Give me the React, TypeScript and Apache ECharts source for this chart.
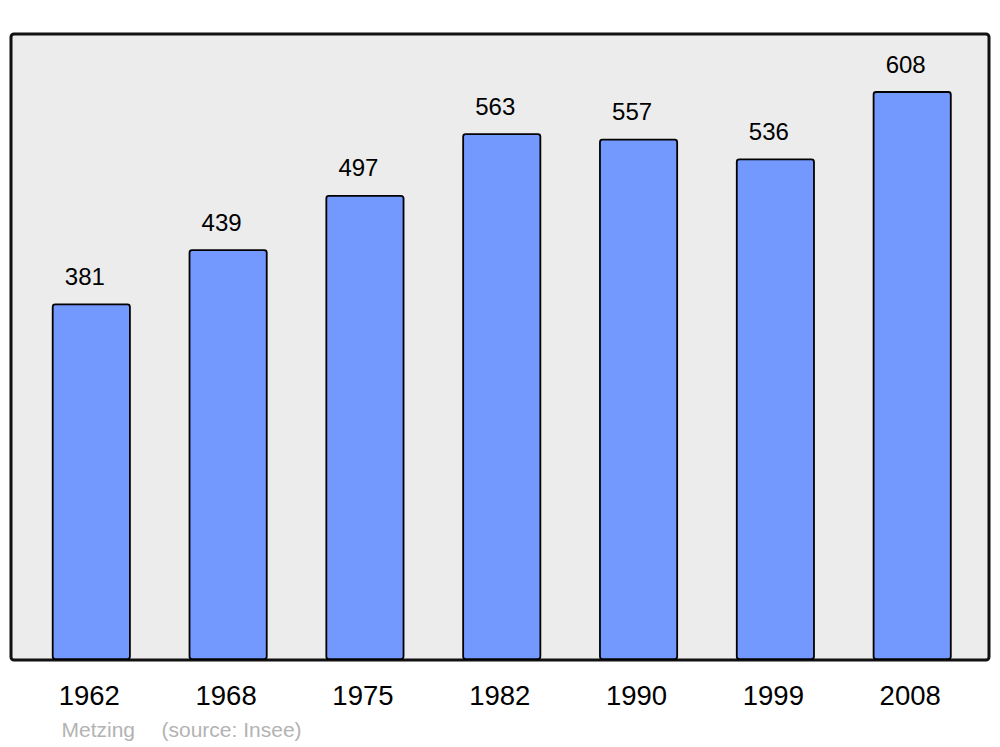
import React, { useEffect, useRef } from "react";
import * as echarts from "echarts";

const years = ["1962", "1968", "1975", "1982", "1990", "1999", "2008"];
const population = [381, 439, 497, 563, 557, 536, 608];
const commune = "Metzing";
const source = "(source: Insee)";

export default function App() {
  const ref = useRef<HTMLDivElement>(null);
  useEffect(() => {
    if (!ref.current) return;
    const chart = echarts.init(ref.current, null, { renderer: "svg" });
    const font = "Liberation Sans";
    chart.setOption({
      animation: false,
      textStyle: { fontFamily: font },
      grid: { left: 22.9, right: 19.4, top: 34, bottom: 87 },
      xAxis: {
        type: "category",
        data: years,
        axisLine: { show: false },
        axisTick: { show: false },
        axisLabel: {
          color: "#000",
          fontSize: 27.5,
          margin: 21,
          fontFamily: font,
          padding: [0, 4, 0, 0],
        },
      },
      yAxis: {
        type: "value",
        min: 0,
        max: 669,
        show: false,
        splitLine: { show: false },
      },
      graphic: [
        {
          type: "rect",
          z: -10,
          shape: { x: 11, y: 34, width: 978, height: 626, r: 3 },
          style: { fill: "#ececec", stroke: "#111", lineWidth: 3 },
        },
        {
          type: "text",
          x: 61.5,
          y: 729.5,
          style: {
            text: commune,
            fill: "#b3b3b3",
            fontSize: 21,
            fontFamily: font,
            textVerticalAlign: "middle",
          },
        },
        {
          type: "text",
          x: 161.5,
          y: 729.5,
          style: {
            text: source,
            fill: "#b3b3b3",
            fontSize: 21,
            fontFamily: font,
            textVerticalAlign: "middle",
          },
        },
      ],
      series: [
        {
          type: "bar",
          data: population,
          barWidth: 79,
          itemStyle: {
            color: "#7399ff",
            borderColor: "#000",
            borderWidth: 1.8,
            borderRadius: 2.5,
          },
          label: {
            show: true,
            position: "top",
            distance: 15,
            offset: [-6.5, 0],
            color: "#000",
            fontSize: 24,
            fontFamily: font,
          },
        },
      ],
    });
    return () => chart.dispose();
  }, []);
  return <div ref={ref} style={{ width: 1000, height: 747, position: "absolute", left: 0, top: 0 }} />;
}
